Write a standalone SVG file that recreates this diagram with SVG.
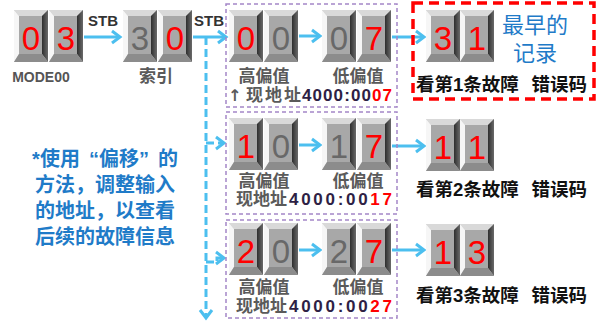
<svg xmlns="http://www.w3.org/2000/svg" xmlns:xlink="http://www.w3.org/1999/xlink" width="597" height="322" viewBox="0 0 597 322">
<style>
.dg{font-family:"Liberation Sans",Arial,sans-serif;font-size:33px;text-anchor:middle}
.r{fill:#ff0000}.g{fill:#686868}
.lbl{font-family:"Liberation Sans","Noto Sans CJK SC",sans-serif;font-weight:bold;fill:#5a5a5a;font-size:17px}
.addr{font-family:"Liberation Sans","Noto Sans CJK SC",sans-serif;font-weight:bold;fill:#2e1f45;font-size:17px}
.blk{font-family:"Liberation Sans","Noto Sans CJK SC",sans-serif;font-weight:bold;fill:#111;font-size:18.5px}
.blue{font-family:"Liberation Sans","Noto Sans CJK SC",sans-serif;font-weight:bold;fill:#1f7bc8;font-size:20px;text-anchor:middle}
.stb{font-family:"Liberation Sans",sans-serif;font-weight:bold;fill:#333;font-size:15px}
.arr{fill:none;stroke:#4cbfef;stroke-width:3;marker-end:url(#ah)}
.dash{stroke-dasharray:8 4}
.pbox{fill:none;stroke:#a486c8;stroke-width:1.5;stroke-dasharray:4 3}
</style>
<defs>
<marker id="ah" markerUnits="userSpaceOnUse" markerWidth="14" markerHeight="16" refX="10" refY="8" orient="auto">
<path d="M2,2 L10,8 L2,14" fill="none" stroke="#4cbfef" stroke-width="3"/>
</marker>
<linearGradient id="rg" x1="0" y1="0" x2="1" y2="0"><stop offset="0" stop-color="#2e2e2e"/><stop offset="1" stop-color="#6a6a6a"/></linearGradient>
<symbol id="key" width="34" height="52" viewBox="0 0 34 52">
<rect x="0" y="0" width="34" height="52" fill="#bdbdbd"/>
<polygon points="0,0 34,0 28,6 5,6" fill="#d9d9d9"/>
<polygon points="0,0 5,6 5,44 0,52" fill="#f6f6f6"/>
<polygon points="34,0 34,52 28,44 28,6" fill="url(#rg)"/>
<polygon points="0,52 5,44 28,44 34,52" fill="#8c8c8c"/>
<rect x="5" y="6" width="23" height="38" fill="#a8a8a8"/>
</symbol>
</defs>

<g id="connectors">
<line class="arr" x1="84" y1="37" x2="120" y2="37"/>
<line class="arr" x1="193" y1="37" x2="226" y2="37"/>
<line class="arr dash" x1="206" y1="37" x2="206" y2="318"/>
<line class="arr dash" x1="206" y1="143" x2="224" y2="143"/>
<path class="arr dash" d="M206,262 H217 V258 H224"/>
<line class="arr" x1="299" y1="36" x2="320" y2="36"/>
<line class="arr" x1="299" y1="145" x2="320" y2="145"/>
<line class="arr" x1="299" y1="250" x2="320" y2="250"/>
<line class="arr" x1="392" y1="37" x2="424" y2="37"/>
<line class="arr" x1="392" y1="146" x2="424" y2="146"/>
<line class="arr" x1="392" y1="250" x2="424" y2="250"/>
<text class="stb" x="88" y="26">STB</text>
<text class="stb" x="194" y="26">STB</text>
</g>

<g id="mode">
<use href="#key" x="14" y="10"/><use href="#key" x="49" y="10"/>
<text class="dg r" x="31" y="50">0</text><text class="dg r" x="66" y="50">3</text>
<text x="41" y="82" style="font-family:'Liberation Sans',sans-serif;font-weight:bold;font-size:14px;fill:#555;text-anchor:middle">MODE00</text>
</g>

<g id="index">
<use href="#key" x="123" y="10"/><use href="#key" x="158" y="10"/>
<text class="dg g" x="140" y="50">3</text><text class="dg r" x="175" y="50">0</text>
<text class="lbl" x="156" y="82" text-anchor="middle">索引</text>
</g>

<g id="offset1">
<rect class="pbox" x="226" y="4" width="171" height="103"/>
<use href="#key" x="229" y="10"/><use href="#key" x="264" y="10"/>
<use href="#key" x="322" y="10"/><use href="#key" x="357" y="10"/>
<text class="dg r" x="246" y="50">0</text><text class="dg g" x="281" y="50">0</text>
<text class="dg g" x="339" y="50">0</text><text class="dg r" x="374" y="50">7</text>
<text class="lbl" x="264" y="82" text-anchor="middle">高偏值</text>
<text class="lbl" x="358" y="82" text-anchor="middle">低偏值</text>
<text class="lbl" x="228" y="101" style="font-family:'DejaVu Sans',sans-serif;font-size:16px">↑</text>
<text class="lbl" x="246" y="101" textLength="55">现地址</text>
<text class="addr" x="302" y="101" textLength="90">4000:00<tspan fill="#ff0000">07</tspan></text>
</g>

<g id="offset2">
<rect class="pbox" x="226" y="112" width="171" height="102"/>
<use href="#key" x="229" y="118"/><use href="#key" x="264" y="118"/>
<use href="#key" x="322" y="118"/><use href="#key" x="357" y="118"/>
<text class="dg r" x="246" y="158">1</text><text class="dg g" x="281" y="158">0</text>
<text class="dg g" x="339" y="158">1</text><text class="dg r" x="374" y="158">7</text>
<text class="lbl" x="264" y="187" text-anchor="middle">高偏值</text>
<text class="lbl" x="358" y="187" text-anchor="middle">低偏值</text>
<text class="lbl" x="236" y="205">现地址</text>
<text class="addr" x="289" y="205" textLength="103">4000:00<tspan fill="#ff0000">17</tspan></text>
</g>

<g id="offset3">
<rect class="pbox" x="226" y="220" width="171" height="98"/>
<use href="#key" x="229" y="223"/><use href="#key" x="264" y="223"/>
<use href="#key" x="322" y="223"/><use href="#key" x="357" y="223"/>
<text class="dg r" x="246" y="263">2</text><text class="dg g" x="281" y="263">0</text>
<text class="dg g" x="339" y="263">2</text><text class="dg r" x="374" y="263">7</text>
<text class="lbl" x="264" y="293" text-anchor="middle">高偏值</text>
<text class="lbl" x="358" y="293" text-anchor="middle">低偏值</text>
<text class="lbl" x="236" y="312">现地址</text>
<text class="addr" x="289" y="312" textLength="103">4000:00<tspan fill="#ff0000">27</tspan></text>
</g>

<g id="result1">
<rect x="413" y="3" width="181" height="96" fill="none" stroke="#ff0000" stroke-width="3.5" stroke-dasharray="10 6"/>
<use href="#key" x="426" y="10"/><use href="#key" x="460" y="10"/>
<text class="dg r" x="443" y="50">3</text><text class="dg r" x="477" y="50">1</text>
<text class="blue" x="535" y="33" style="font-size:22px;font-weight:normal">最早的</text>
<text class="blue" x="535" y="61" style="font-size:22px;font-weight:normal">记录</text>
<text class="blk" x="416" y="91">看第1条故障</text>
<text class="blk" x="587" y="91" text-anchor="end">错误码</text>
</g>

<g id="result2">
<use href="#key" x="426" y="119"/><use href="#key" x="460" y="119"/>
<text class="dg r" x="443" y="159">1</text><text class="dg r" x="477" y="159">1</text>
<text class="blk" x="416" y="196">看第2条故障</text>
<text class="blk" x="587" y="196" text-anchor="end">错误码</text>
</g>

<g id="result3">
<use href="#key" x="426" y="224"/><use href="#key" x="460" y="224"/>
<text class="dg r" x="443" y="264">1</text><text class="dg r" x="477" y="264">3</text>
<text class="blk" x="416" y="302">看第3条故障</text>
<text class="blk" x="587" y="302" text-anchor="end">错误码</text>
</g>

<g id="note">
<text class="blue" x="105" y="166">*使用<tspan dx="9">“</tspan>偏移”<tspan dx="9">的</tspan></text>
<text class="blue" x="105" y="192">方法，调整输入</text>
<text class="blue" x="105" y="218">的地址，以查看</text>
<text class="blue" x="105" y="244">后续的故障信息</text>
</g>
</svg>
